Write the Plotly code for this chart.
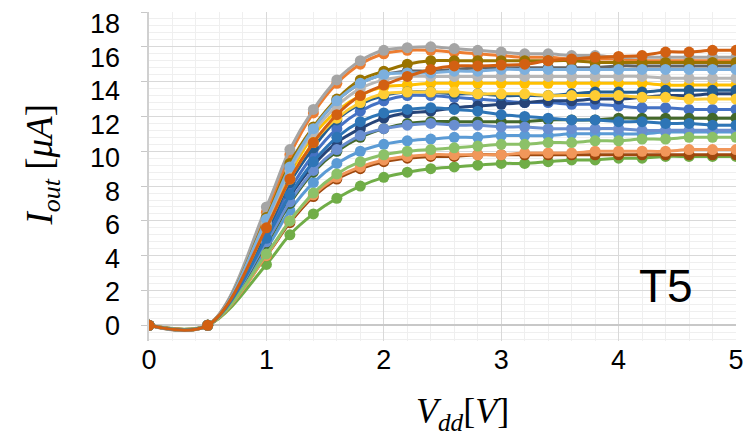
import plotly.graph_objects as go

# Supply voltage sweep (V)
vdd = [0, 0.5, 1.0, 1.2, 1.4, 1.6, 1.8, 2.0, 2.2, 2.4, 2.6, 2.8, 3.0,
       3.2, 3.4, 3.6, 3.8, 4.0, 4.2, 4.4, 4.6, 4.8, 5.0]

# Output current (uA) for each curve
s01 = [0, 0, 5.2, 7.8, 9.8, 11.3, 12.3, 12.9, 13.2, 13.2, 13.1, 13.0, 12.9, 12.8, 12.8, 12.7, 12.7, 12.6, 12.5, 12.5, 12.4, 12.4, 12.4]
s02 = [0, 0, 6.5, 9.8, 12.2, 13.9, 15.0, 15.6, 15.8, 15.8, 15.7, 15.6, 15.5, 15.4, 15.4, 15.3, 15.3, 15.3, 15.2, 15.2, 15.2, 15.2, 15.2]
s03 = [0, 0, 6.8, 10.1, 12.4, 14.1, 15.2, 15.8, 15.95, 16.0, 15.9, 15.8, 15.7, 15.6, 15.6, 15.5, 15.5, 15.4, 15.4, 15.4, 15.4, 15.4, 15.4]
s04 = [0, 0, 5.8, 8.7, 10.9, 12.3, 13.2, 13.7, 13.8, 13.9, 13.9, 13.9, 13.9, 13.9, 13.9, 13.9, 13.9, 13.9, 13.9, 13.8, 13.8, 13.8, 13.8]
s05 = [0, 0, 4.4, 6.6, 8.2, 9.3, 10.0, 10.4, 10.6, 10.7, 10.8, 10.8, 10.9, 10.9, 10.9, 11.0, 11.0, 11.0, 11.0, 11.1, 11.1, 11.1, 11.1]
s06 = [0, 0, 3.5, 5.2, 6.4, 7.3, 8.0, 8.5, 8.8, 9.0, 9.1, 9.2, 9.3, 9.3, 9.4, 9.5, 9.5, 9.6, 9.6, 9.7, 9.7, 9.7, 9.7]
s07 = [0, 0, 5.0, 7.4, 9.2, 10.5, 11.3, 11.9, 12.2, 12.3, 12.5, 12.6, 12.7, 12.8, 12.9, 12.9, 13.0, 13.0, 13.1, 13.2, 13.2, 13.3, 13.3]
s08 = [0, 0, 4.0, 5.9, 7.4, 8.4, 9.0, 9.4, 9.6, 9.7, 9.7, 9.8, 9.8, 9.8, 9.8, 9.8, 9.8, 9.8, 9.8, 9.8, 9.8, 9.8, 9.8]
s09 = [0, 0, 6.0, 9.0, 11.3, 12.9, 13.9, 14.4, 14.6, 14.6, 14.7, 14.8, 14.8, 14.8, 14.8, 14.8, 14.8, 14.9, 14.9, 14.9, 14.9, 14.9, 14.9]
s10 = [0, 0, 6.2, 9.3, 11.4, 13.0, 14.1, 14.6, 15.0, 15.2, 15.2, 15.2, 15.2, 15.2, 15.2, 15.2, 15.1, 15.1, 15.1, 15.1, 15.1, 15.1, 15.1]
s11 = [0, 0, 5.4, 8.2, 10.2, 11.8, 12.7, 13.2, 13.4, 13.4, 13.3, 13.3, 13.2, 13.2, 13.2, 13.3, 13.4, 13.4, 13.4, 13.5, 13.5, 13.5, 13.5]
s12 = [0, 0, 4.7, 7.0, 8.8, 10.0, 10.8, 11.3, 11.6, 11.7, 11.7, 11.7, 11.7, 11.7, 11.8, 11.8, 11.8, 11.9, 11.9, 11.9, 11.9, 11.9, 11.9]
s13 = [0, 0, 4.8, 7.1, 8.9, 10.1, 10.9, 11.3, 11.5, 11.6, 11.5, 11.5, 11.4, 11.4, 11.3, 11.3, 11.3, 11.3, 11.2, 11.2, 11.2, 11.2, 11.2]
s14 = [0, 0, 4.0, 6.0, 7.5, 8.5, 9.1, 9.5, 9.7, 9.8, 9.8, 9.8, 9.8, 9.9, 9.9, 9.9, 10.0, 10.0, 10.0, 10.0, 10.1, 10.1, 10.1]
s15 = [0, 0, 5.9, 8.9, 11.1, 12.6, 13.6, 14.1, 14.3, 14.3, 14.3, 14.3, 14.3, 14.3, 14.3, 14.3, 14.3, 14.3, 14.3, 14.2, 14.2, 14.2, 14.2]
s16 = [0, 0, 5.6, 8.4, 10.5, 11.9, 12.8, 13.3, 13.4, 13.4, 13.4, 13.3, 13.3, 13.3, 13.2, 13.2, 13.2, 13.2, 13.1, 13.1, 13.0, 13.0, 13.0]
s17 = [0, 0, 6.1, 9.1, 11.3, 12.9, 13.9, 14.4, 14.5, 14.5, 14.6, 14.6, 14.7, 14.7, 14.7, 14.7, 14.7, 14.7, 14.7, 14.7, 14.7, 14.7, 14.7]
s18 = [0, 0, 4.1, 6.0, 7.6, 8.7, 9.4, 9.8, 10.0, 10.1, 10.2, 10.3, 10.4, 10.4, 10.5, 10.5, 10.6, 10.6, 10.7, 10.7, 10.8, 10.8, 10.8]
s19 = [0, 0, 5.0, 7.5, 9.4, 10.8, 11.7, 12.2, 12.4, 12.5, 12.4, 12.3, 12.1, 12.0, 11.9, 11.8, 11.8, 11.7, 11.7, 11.6, 11.6, 11.5, 11.5]
s20 = [0, 0, 5.6, 8.4, 10.5, 12.1, 13.2, 13.8, 14.3, 14.7, 14.9, 14.9, 14.95, 15.0, 15.2, 15.3, 15.4, 15.45, 15.5, 15.7, 15.7, 15.8, 15.8]

series = [s01, s02, s03, s04, s05, s06, s07, s08, s09, s10,
          s11, s12, s13, s14, s15, s16, s17, s18, s19, s20]
colors = ["#4472C4", "#ED7D31", "#A5A5A5", "#FFC000", "#5B9BD5", "#70AD47",
          "#264478", "#9E480E", "#636363", "#997300", "#255E91", "#43682B",
          "#698ED0", "#F1975A", "#B7B7B7", "#FFCD33", "#7CAFDD", "#8CC168",
          "#2E75B6", "#D26012"]

y_ticks = [0, 2, 4, 6, 8, 10, 12, 14, 16, 18]
x_ticks = [0, 1, 2, 3, 4, 5]

fig = go.Figure()
for ys, c in zip(series, colors):
    fig.add_trace(go.Scatter(
        x=vdd, y=ys, mode="lines+markers",
        line=dict(color=c, width=3, shape="spline", smoothing=1.0),
        marker=dict(color=c, size=11),
        showlegend=False, hoverinfo="skip"))

# helper (empty) trace so the label axis is drawn
fig.add_trace(go.Scatter(x=[None], y=[None], yaxis="y2", showlegend=False, hoverinfo="skip"))

W, H = 753, 438
L, R, T, B = 149, 12, 9, 97
PW, PH = W - L - R, H - T - B
fig.update_layout(
    width=W, height=H,
    margin=dict(l=L, r=R, t=T, b=B),
    paper_bgcolor="white", plot_bgcolor="white",
    font=dict(family="Liberation Sans, Arial, sans-serif", color="black"),
    xaxis=dict(
        range=[0, 5], tickvals=x_ticks, ticktext=[str(v) for v in x_ticks],
        showgrid=True, gridcolor="#d9d9d9", gridwidth=1,
        minor=dict(dtick=0.2, showgrid=True, gridcolor="#efefef", gridwidth=1),
        zeroline=False, showline=False, ticks="",
        tickfont=dict(size=27, color="black"),
    ),
    yaxis=dict(
        range=[-0.9, 18], tickvals=y_ticks, showticklabels=False,
        showgrid=True, gridcolor="#d9d9d9", gridwidth=1,
        minor=dict(dtick=0.4, tick0=0, showgrid=True, gridcolor="#efefef", gridwidth=1),
        zeroline=True, zerolinecolor="#c8c8c8", zerolinewidth=1.5,
        showline=True, linecolor="#d0d0d0", linewidth=1.5,
        ticks="outside", ticklen=6, tickcolor="#c8c8c8",
    ),
    yaxis2=dict(
        overlaying="y", side="left", range=[-0.95, 18.71],
        tickvals=y_ticks, ticktext=[str(v) for v in y_ticks],
        showgrid=False, zeroline=False, showline=False, ticks="",
        tickfont=dict(size=27, color="black"), ticklabelstandoff=28,
    ),
)

fig.add_annotation(
    text="<i>I</i><sub><i>out</i></sub> [<i>μA</i>]", textangle=-90,
    xref="paper", yref="paper", x=(42 - L) / PW, y=(H - B - 163) / PH,
    xanchor="center", yanchor="middle",
    showarrow=False, font=dict(family="Liberation Serif, serif", size=37, color="black"))
fig.add_annotation(
    text="<i>V</i><sub><i>dd</i></sub>[<i>V</i>]",
    xref="paper", yref="paper", x=(465 - L) / PW, y=(H - B - 414) / PH,
    xanchor="center", yanchor="middle",
    showarrow=False, font=dict(family="Liberation Serif, serif", size=36, color="black"))
fig.add_annotation(
    text="T5", xref="paper", yref="paper",
    x=(670 - L) / PW, y=(H - B - 285) / PH,
    xanchor="center", yanchor="middle",
    showarrow=False, font=dict(family="Liberation Sans, Arial, sans-serif", size=46, color="black"))

fig.write_html("out.html")
